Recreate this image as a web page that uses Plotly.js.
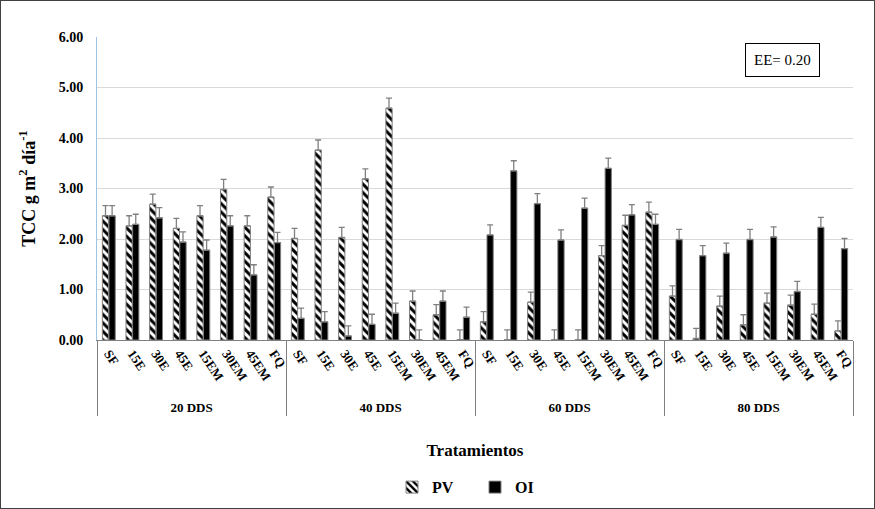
<!DOCTYPE html>
<html>
<head>
<meta charset="utf-8">
<script src="https://cdn.plot.ly/plotly-3.0.1.min.js"></script>
<style>
html,body{margin:0;padding:0;background:#fff;}
#chart{box-sizing:border-box;width:875px;height:509px;border:1px solid #404040;}
</style>
</head>
<body>
<div id="chart"></div>
<script>
const groups = ['20 DDS', '40 DDS', '60 DDS', '80 DDS'];
const treatments = ['SF', '15E', '30E', '45E', '15EM', '30EM', '45EM', 'FQ'];

const pv20 = [2.46, 2.26, 2.69, 2.21, 2.46, 2.98, 2.26, 2.83];
const oi20 = [2.46, 2.29, 2.42, 1.94, 1.78, 2.26, 1.29, 1.93];
const pv40 = [2.01, 3.76, 2.03, 3.19, 4.59, 0.77, 0.50, 0.00];
const oi40 = [0.43, 0.36, 0.08, 0.31, 0.53, 0.00, 0.77, 0.45];
const pv60 = [0.36, 0.00, 0.75, 0.00, 0.00, 1.67, 2.27, 2.53];
const oi60 = [2.08, 3.35, 2.70, 1.98, 2.61, 3.40, 2.48, 2.29];
const pv80 = [0.87, 0.03, 0.67, 0.30, 0.73, 0.69, 0.51, 0.18];
const oi80 = [1.99, 1.67, 1.72, 1.99, 2.04, 0.96, 2.23, 1.81];
const ee = 0.20;

const outer = [], inner = [];
groups.forEach(g => treatments.forEach(t => { outer.push(g); inner.push(t); }));
const pv = [].concat(pv20, pv40, pv60, pv80);
const oi = [].concat(oi20, oi40, oi60, oi80);
const errPlus = pv.map(() => ee);
const errMinus = pv.map(() => 0);

const serif = '"Liberation Serif"';

const err = {type: 'data', symmetric: false, array: errPlus, arrayminus: errMinus,
             color: '#808080', thickness: 1.3, width: 3};

const traces = [
  {type: 'bar', name: 'PV', x: [outer, inner], y: pv,
   marker: {color: '#ffffff', line: {color: '#808080', width: 1},
            pattern: {shape: '\\', fgcolor: '#000000', bgcolor: '#ffffff', size: 6, solidity: 0.5}},
   error_y: err},
  {type: 'bar', name: 'OI', x: [outer, inner], y: oi,
   marker: {color: '#000000', line: {color: '#808080', width: 1}},
   error_y: err}
];

const layout = {
  width: 873, height: 507,
  margin: {l: 96, r: 21, t: 36, b: 168},
  paper_bgcolor: '#ffffff', plot_bgcolor: '#ffffff',
  font: {family: serif, color: '#000000', size: 13, weight: 'bold'},
  barmode: 'group', bargap: 0.44, bargroupgap: 0.05,
  showlegend: true,
  legend: {orientation: 'h', x: 0.5, xanchor: 'center', yref: 'container', y: 0.041, yanchor: 'middle',
           font: {family: serif, size: 16, weight: 'bold'}, traceorder: 'normal',
           itemwidth: 30, entrywidth: 38, tracegroupgap: 0},
  xaxis: {
    type: 'multicategory', tickangle: 56, ticks: '',
    showline: true, linecolor: '#808080', linewidth: 1,
    showdividers: true, dividercolor: '#808080', dividerwidth: 1,
    tickfont: {family: serif, size: 13, weight: 'bold'},
    title: {text: 'Tratamientos', font: {family: serif, size: 17, weight: 'bold'}, standoff: 30}
  },
  yaxis: {
    range: [0, 6], dtick: 1, tickformat: '.2f',
    showgrid: true, gridcolor: '#d9d9d9', gridwidth: 1,
    zeroline: false, showline: true, linecolor: '#9dc3e6', linewidth: 1,
    ticks: '', ticklen: 0, ticklabelstandoff: 10,
    tickfont: {family: serif, size: 14, weight: 'bold'},
    title: {text: 'TCC g m<sup>2</sup> día<sup>-1</sup>', font: {family: serif, size: 18, weight: 'bold'}, standoff: 18}
  },
  annotations: [{
    xref: 'paper', yref: 'paper', x: 0.907, y: 0.925, xanchor: 'center', yanchor: 'middle',
    text: 'EE= 0.20', showarrow: false,
    font: {family: serif, size: 15, weight: 'normal'},
    bordercolor: '#000000', borderwidth: 1, borderpad: 8, bgcolor: '#ffffff'
  }]
};

Plotly.newPlot('chart', traces, layout, {displayModeBar: false, staticPlot: true});
</script>
</body>
</html>
